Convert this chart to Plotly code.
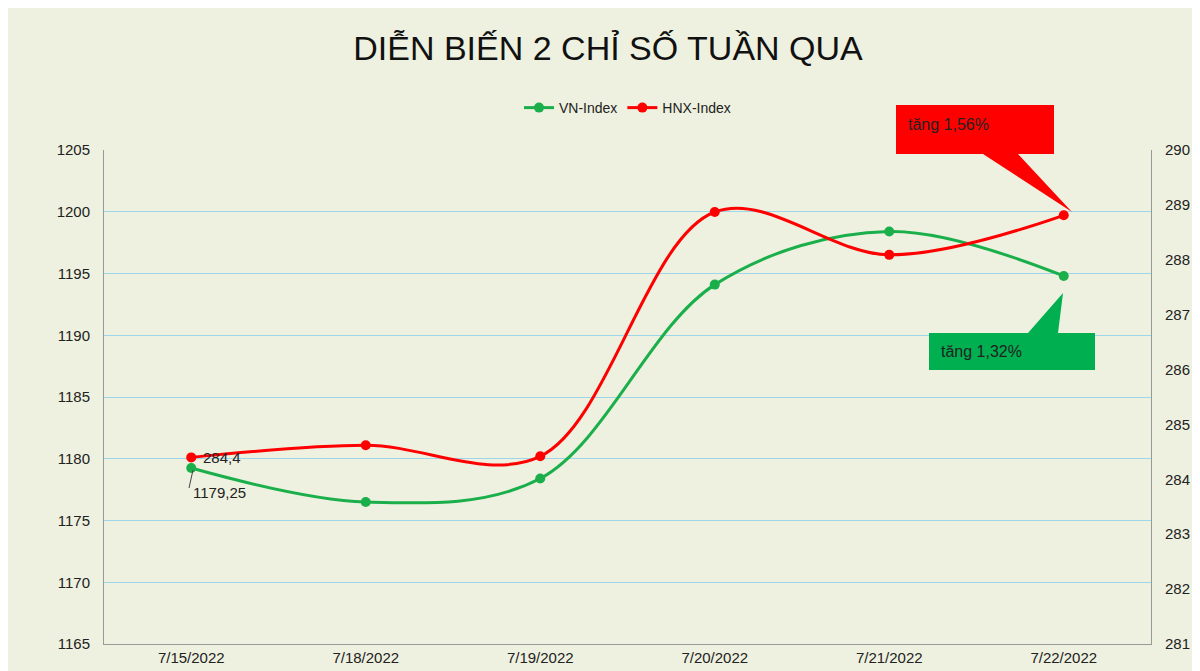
import plotly.graph_objects as go

dates = ["7/15/2022","7/18/2022","7/19/2022","7/20/2022","7/21/2022","7/22/2022"]
vn = [1179.25, 1176.5, 1178.4, 1194.1, 1198.4, 1194.8]
hnx = [284.4, 284.62, 284.42, 288.87, 288.09, 288.81]
left_ticks = list(range(1165, 1206, 5))
right_ticks = list(range(281, 291))

W, H = 1200, 671
L, R, T, B = 96, 1143, 142, 636
def px(x): return (x - L) / (R - L)
def py(y): return (B - y) / (B - T)

fig = go.Figure()
fig.add_trace(go.Scatter(x=dates, y=vn, name="VN-Index", mode="lines+markers",
    line=dict(color="#1AAF4B", width=3, shape="spline", smoothing=1.0),
    marker=dict(size=10, color="#1AAF4B")))
fig.add_trace(go.Scatter(x=dates, y=hnx, name="HNX-Index", mode="lines+markers", yaxis="y2",
    line=dict(color="#FF0000", width=3, shape="spline", smoothing=1.0),
    marker=dict(size=10, color="#FF0000")))

red_path = "M {} {} L {} {} L {} {} L {} {} L {} {} L {} {} L {} {} Z".format(
    px(888), py(97), px(1046), py(97), px(1046), py(146), px(1010), py(146),
    px(1064), py(204), px(975), py(146), px(888), py(146))
green_path = "M {} {} L {} {} L {} {} L {} {} L {} {} L {} {} L {} {} Z".format(
    px(921), py(325), px(1020), py(325), px(1055), py(285), px(1050), py(325),
    px(1087), py(325), px(1087), py(362), px(921), py(362))

fig.update_layout(
    width=W, height=H, paper_bgcolor="#EEF1DF", plot_bgcolor="#EEF1DF",
    margin=dict(l=L, r=W - R, t=T, b=H - B, autoexpand=False),
    font=dict(family="Liberation Sans, Arial", size=15, color="#222"),
    title=dict(text="DIỄN BIẾN 2 CHỈ SỐ TUẦN QUA", x=0.5, xanchor="center", y=0.94, yanchor="middle",
               font=dict(size=34, color="#111")),
    showlegend=True,
    legend=dict(orientation="h", x=0.5, xanchor="center", y=1.085, yanchor="middle",
                bgcolor="rgba(0,0,0,0)", font=dict(size=14)),
    xaxis=dict(type="category", range=[-0.5, 5.5], showgrid=False, showline=True,
               linecolor="#999", ticks="", tickfont=dict(size=15), automargin=False),
    yaxis=dict(range=[1165, 1205], tickvals=left_ticks, showgrid=True, gridcolor="#9DD6E8",
               showline=True, linecolor="#999", zeroline=False, tickfont=dict(size=15),
               ticklabelstandoff=10, automargin=False),
    yaxis2=dict(range=[281, 290], tickvals=right_ticks, overlaying="y", side="right", showgrid=False,
                showline=True, linecolor="#999", zeroline=False, tickfont=dict(size=15),
                ticklabelstandoff=10, automargin=False),
    shapes=[
        dict(type="path", xref="paper", yref="paper", path=red_path, fillcolor="#FF0000", line=dict(width=0)),
        dict(type="path", xref="paper", yref="paper", path=green_path, fillcolor="#00B050", line=dict(width=0)),
        dict(type="line", xref="paper", yref="paper", x0=px(185), y0=py(462), x1=px(181), y1=py(480),
             line=dict(color="#444", width=1)),
    ],
    annotations=[
        dict(xref="paper", yref="paper", x=px(898), y=py(117), text="tăng 1,56%", showarrow=False,
             xanchor="left", yanchor="middle", font=dict(size=16, color="#222")),
        dict(xref="paper", yref="paper", x=px(931), y=py(343), text="tăng 1,32%", showarrow=False,
             xanchor="left", yanchor="middle", font=dict(size=16, color="#222")),
        dict(x=dates[0], y=hnx[0], yref="y2", text=str(hnx[0]).replace(".", ","), showarrow=False,
             xanchor="left", yanchor="middle", xshift=10, font=dict(size=15)),
        dict(x=dates[0], y=vn[0], text=f"{vn[0]:.2f}".replace(".", ","), showarrow=False,
             xanchor="left", yanchor="top", xshift=0, yshift=-14, font=dict(size=15)),
    ],
)
fig.write_html("out.html")
